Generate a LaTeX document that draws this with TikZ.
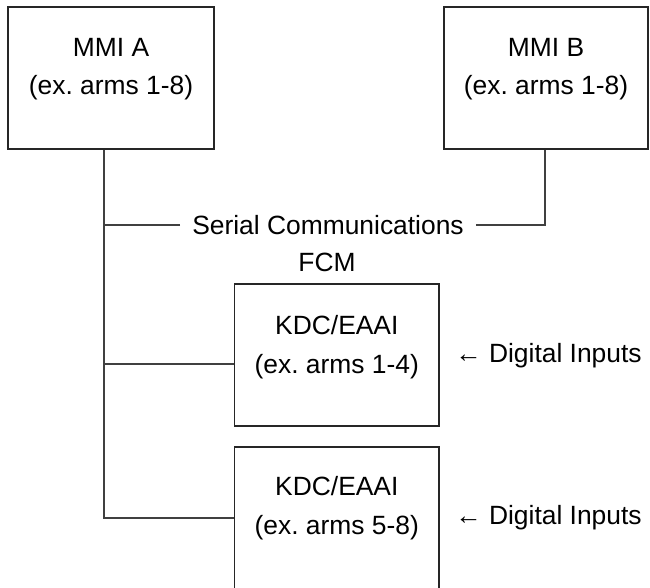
\documentclass[tikz,border=0pt]{standalone}
\usepackage{fontspec}
\setmainfont{Liberation Sans}
\frenchspacing
\begin{document}
\frenchspacing
\begin{tikzpicture}[x=1pt,y=-1pt,
  box/.style={draw=black!85, line width=1.1pt, inner sep=0pt, minimum height=142pt},
  txt/.style={font=\fontsize{26.4}{38.5}\selectfont\frenchspacing, align=center, inner sep=0pt},
  wire/.style={draw=black!75, line width=1.1pt}]
\useasboundingbox (0,0) rectangle (650,588);
% boxes
\node[box, minimum width=206pt] (mmia) at (111,78) {};
\node[box, minimum width=204pt] (mmib) at (546,78) {};
\node[box, minimum width=204.4pt] (kdc1) at (336.8,355) {};
\node[box, minimum width=204.4pt] (kdc2) at (336.8,518) {};
% texts
\node[txt] (mmiaT) at (111,69) {MMI A\\(ex. arms 1-8)};
\node[txt] (mmibT) at (546,69) {MMI B\\(ex. arms 1-8)};
\node[txt] (kdc1T) at (336.8,347) {KDC/EAAI\\(ex. arms 1-4)};
\node[txt] (kdc2T) at (336.8,508) {KDC/EAAI\\(ex. arms 5-8)};
\node[txt, inner xsep=12pt] (serial) at (328,225) {Serial Communications};
\node[txt] (fcm) at (327,262) {FCM};
\node[txt] (din1) at (548.5,355.5) {← Digital Inputs};
\node[txt] (din2) at (548.5,517.5) {← Digital Inputs};
% connectors
\coordinate (tA) at ([xshift=-7pt]mmia.south);
\draw[wire] (tA) |- (kdc2.west);
\draw[wire] (tA |- kdc1.west) ++(0,9) coordinate (j1) -- (j1 -| kdc1.west);
\draw[wire] (serial.west) -- (serial.west -| tA);
\draw[wire] (serial.east) -| ([xshift=-1pt]mmib.south);
\end{tikzpicture}
\end{document}
